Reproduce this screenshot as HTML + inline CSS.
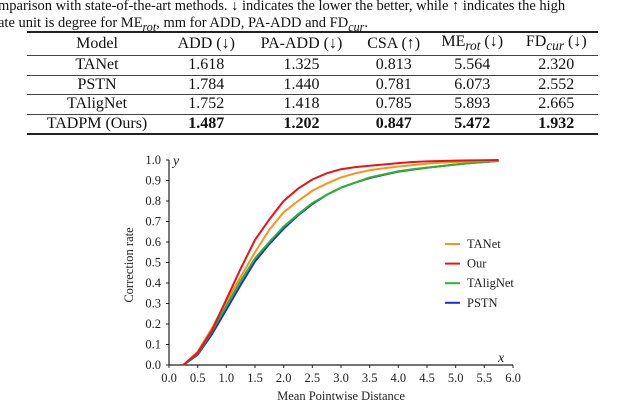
<!DOCTYPE html>
<html><head><meta charset="utf-8"><style>
body{margin:0;width:640px;height:403px;background:#fff;overflow:hidden;font-family:"Liberation Serif",serif;color:#111}
.cap{position:absolute;left:-2px;font-size:14.5px;white-space:nowrap;line-height:17px}
.cap sub{line-height:0}
table{position:absolute;left:27px;top:31px;width:571px;border-collapse:collapse;font-size:16px}
td,th{font-weight:normal;text-align:center;height:18.5px;padding:0;line-height:18px}
tr{border-bottom:0.8px solid #444}
</style></head><body>
<div class="cap" style="top:-2px">mparison with state-of-the-art methods. ↓ indicates the lower the better, while ↑ indicates the high</div>
<div class="cap" style="top:15px">ate unit is degree for ME<sub><i>rot</i></sub>, mm for ADD, PA-ADD and FD<sub><i>cur</i></sub>.</div>
<table style="border-top:2px solid #222;border-bottom:2px solid #222">
<tr><th style="width:140px">Model</th><th>ADD (↓)</th><th>PA-ADD (↓)</th><th>CSA (↑)</th><th>ME<sub><i>rot</i></sub> (↓)</th><th>FD<sub><i>cur</i></sub> (↓)</th></tr>
<tr><td>TANet</td><td>1.618</td><td>1.325</td><td>0.813</td><td>5.564</td><td>2.320</td></tr>
<tr><td>PSTN</td><td>1.784</td><td>1.440</td><td>0.781</td><td>6.073</td><td>2.552</td></tr>
<tr><td>TAligNet</td><td>1.752</td><td>1.418</td><td>0.785</td><td>5.893</td><td>2.665</td></tr>
<tr style="font-weight:bold"><td style="font-weight:normal">TADPM (Ours)</td><td><b>1.487</b></td><td><b>1.202</b></td><td><b>0.847</b></td><td><b>5.472</b></td><td><b>1.932</b></td></tr>
</table>
<svg id="chart" width="640" height="403" style="position:absolute;left:0;top:0"></svg>
<script>
const xs=[0.25,0.5,0.75,1.0,1.25,1.5,1.75,2.0,2.25,2.5,2.75,3.0,3.25,3.5,3.75,4.0,4.25,4.5,4.75,5.0,5.25,5.5,5.75];
const tanet=[0,0.065,0.18,0.31,0.43,0.55,0.66,0.745,0.80,0.85,0.885,0.915,0.935,0.95,0.96,0.968,0.975,0.982,0.987,0.99,0.993,0.996,0.998];
const our=[0,0.06,0.17,0.32,0.47,0.61,0.71,0.80,0.86,0.905,0.935,0.955,0.965,0.972,0.978,0.985,0.99,0.993,0.995,0.997,0.998,0.999,1.0];
const talignet=[0,0.055,0.165,0.29,0.41,0.52,0.60,0.675,0.735,0.79,0.83,0.865,0.89,0.915,0.93,0.945,0.955,0.963,0.97,0.978,0.985,0.99,0.995];
const pstn=[0,0.05,0.15,0.27,0.39,0.505,0.59,0.665,0.73,0.785,0.83,0.865,0.89,0.912,0.928,0.943,0.953,0.962,0.97,0.978,0.985,0.99,0.995];
const xTicks=["0.0","0.5","1.0","1.5","2.0","2.5","3.0","3.5","4.0","4.5","5.0","5.5","6.0"];
const yTicks=["0.0","0.1","0.2","0.3","0.4","0.5","0.6","0.7","0.8","0.9","1.0"];
const svg=document.getElementById('chart');const NS='http://www.w3.org/2000/svg';
const X=v=>169+v*(513-169)/6, Y=v=>365-v*(365-160);
function mk(t,a,txt){const e=document.createElementNS(NS,t);for(const k in a)e.setAttribute(k,a[k]);if(txt!==undefined)e.textContent=txt;svg.appendChild(e);return e;}
let e=mk('line',{x1:X(0),y1:Y(0),x2:X(0),y2:Y(1),stroke:'#222','stroke-width':1.2});

e=mk('line',{x1:X(0),y1:Y(0),x2:X(6),y2:Y(0),stroke:'#222','stroke-width':1.2});

xTicks.forEach(t=>{const v=parseFloat(t);
 mk('line',{x1:X(v),x2:X(v),y1:Y(0),y2:Y(0)+3,stroke:'#222'});
 e=mk('text',{x:X(v),y:382,'text-anchor':'middle','font-size':12.5,fill:'#222'},t);
 });
yTicks.forEach(t=>{const v=parseFloat(t);
 mk('line',{x1:X(0)-3,x2:X(0),y1:Y(v),y2:Y(v),stroke:'#222'});
 e=mk('text',{x:161,y:Y(v)+4,'text-anchor':'end','font-size':12.5,fill:'#222'},t);
 });
e=mk('text',{x:341,y:400,'text-anchor':'middle','font-size':12.5,fill:'#222'},'Mean Pointwise Distance');

e=mk('text',{x:133,y:265,'text-anchor':'middle','font-size':12.5,fill:'#222',transform:'rotate(-90 133 265)'},'Correction rate');

e=mk('text',{x:173,y:165,'font-size':14,'font-style':'italic',fill:'#222'},'y');

e=mk('text',{x:498,y:362,'font-size':14,'font-style':'italic',fill:'#222'},'x');

const series=[["PSTN",pstn,"#1a2ee0"],["TAligNet",talignet,"#2bb52b"],["TANet",tanet,"#f7931e"],["Our",our,"#e8141a"]];
series.forEach(s=>{e=mk('polyline',{points:xs.map((x,i)=>X(x)+','+Y(s[1][i])).join(' '),fill:'none',stroke:s[2],'stroke-width':2});
 });
const leg=[["TANet","#f7931e"],["Our","#e8141a"],["TAligNet","#2bb52b"],["PSTN","#1a2ee0"]];
leg.forEach((l,i)=>{const y=244+i*19.6;
 mk('line',{x1:445,x2:460,y1:y,y2:y,stroke:l[1],'stroke-width':2});
 e=mk('text',{x:467,y:y+4,'font-size':12.5,fill:'#222'},l[0]);
 });
</script>
</body></html>
